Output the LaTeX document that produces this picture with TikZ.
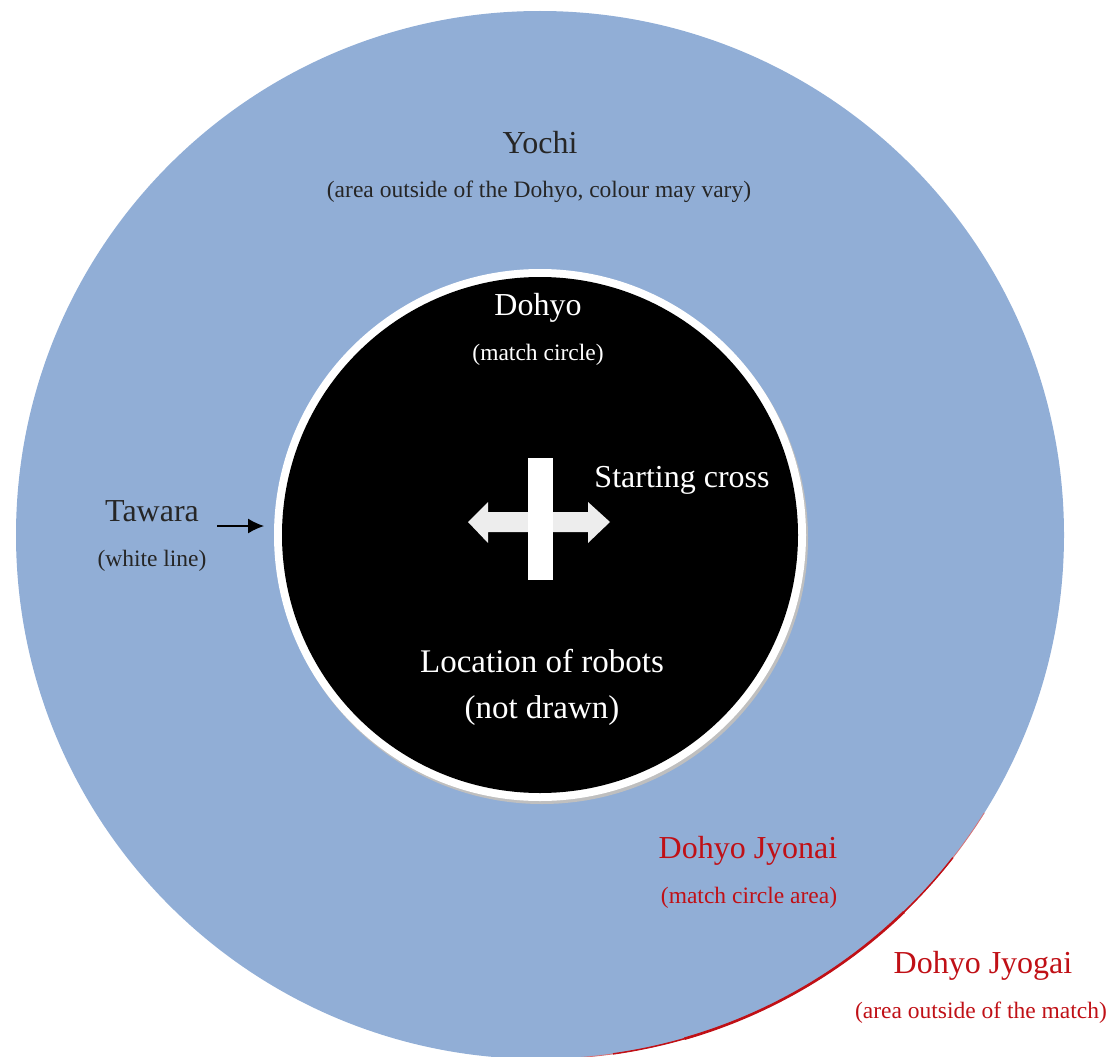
\documentclass[tikz,border=0pt]{standalone}
\usepackage{fontspec}
\setmainfont{Liberation Serif}
\usepackage{xcolor}
\usepackage{tikz}
\usetikzlibrary{shapes, arrows, arrows.meta, positioning}

\definecolor{yochiblue}{RGB}{145,174,214}
\definecolor{jyored}{RGB}{192,16,22}

\begin{document}
\begin{tikzpicture}[
    x=1pt, y=-1pt,
    head/.style={font=\fontsize{32}{38}\selectfont, text=black!85},
    note/.style={font=\fontsize{23.5}{28}\selectfont, text=black!85},
    onblack/.style={text=white},
    redtext/.style={text=jyored},
    line/.style={draw, -{Latex[length=16pt, width=15pt]}, line width=1.3pt}
]
    \useasboundingbox (0,0) rectangle (1120,1057);

    % Areas
    \fill [yochiblue] (540,535) circle (524);
    \draw [jyored!60, line width=0.8pt] (540,535) ++(32:524) arc (32:88:524);
    \draw [jyored, line width=1.5pt] (540,535) ++(38:524) arc (38:82:524);
    \draw [jyored, line width=2.6pt] (540,535) ++(46:524) arc (46:74:524);
    \fill [black!25] (542,538) circle (266);
    \fill [white] (540,535) circle (266);
    \fill [black] (540,535) circle (258);

    % Starting cross
    \fill [white!93!black] (468,522) -- (488,502) -- (488,512) -- (588,512) -- (588,502)
        -- (610,522) -- (588,543) -- (588,532) -- (488,532) -- (488,543) -- cycle;
    \fill [white] (528,458) rectangle (553,580);

    % Nodes
    \node [head] (yochi) at (540,143) {Yochi};
    \node [note] (yochinote) at (539,192) {(area outside of the Dohyo, colour may vary)};

    \node [head, onblack] (dohyo) at (538,308) {Dohyo};
    \node [note, onblack] (dohyonote) at (538,355) {(match circle)};

    \node [head, onblack] (cross) at (682,480) {Starting cross};

    \node [head] (tawara) at (152,511) {Tawara};
    \node [note] (tawaranote) at (152,561) {(white line)};
    \coordinate (tawarafrom) at (217,526);
    \coordinate (tawarato) at (264,526);

    \node [head, onblack, font=\fontsize{33}{38}\selectfont] (robots) at (542,661) {Location of robots};
    \node [head, onblack, font=\fontsize{33}{38}\selectfont] (robotsnote) at (542,711) {(not drawn)};

    \node [head, redtext] (jyonai) at (748,851) {Dohyo Jyonai};
    \node [note, redtext] (jyonainote) at (749,898) {(match circle area)};

    \node [head, redtext] (jyogai) at (983,966) {Dohyo Jyogai};
    \node [note, redtext] (jyogainote) at (981,1013) {(area outside of the match)};

    % Paths
    \path [line] (tawarafrom) -- (tawarato);

\end{tikzpicture}
\end{document}
